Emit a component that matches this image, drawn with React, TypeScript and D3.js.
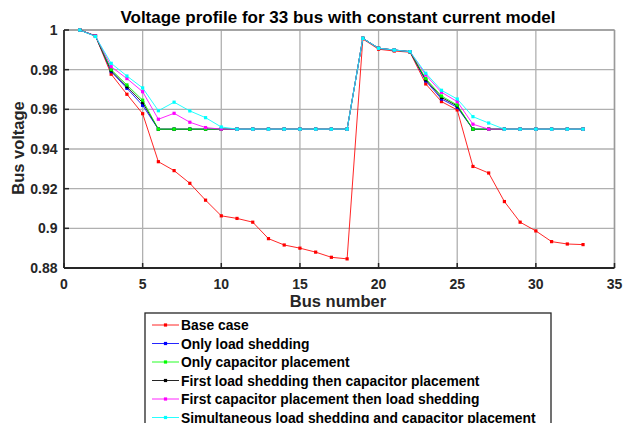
import React from "react";
import * as d3 from "d3";

const buses = [1,2,3,4,5,6,7,8,9,10,11,12,13,14,15,16,17,18,19,20,21,22,23,24,25,26,27,28,29,30,31,32,33];

const baseCase = [1.0,0.997,0.9777,0.9676,0.9578,0.9336,0.9291,0.9227,0.9142,0.9063,0.905,0.9031,0.8948,0.8916,0.89,0.888,0.8854,0.8846,0.9955,0.9903,0.9894,0.9888,0.9728,0.9639,0.9597,0.9312,0.9279,0.9135,0.9031,0.8987,0.8933,0.8921,0.8918];
const onlyLoadShedding = [1.0,0.997,0.979,0.9706,0.962,0.95,0.95,0.95,0.95,0.95,0.95,0.95,0.95,0.95,0.95,0.95,0.95,0.95,0.9958,0.9908,0.9899,0.9891,0.9743,0.9652,0.961,0.95,0.95,0.95,0.95,0.95,0.95,0.95,0.95];
const onlyCapacitor = [1.0,0.997,0.98,0.9723,0.9646,0.95,0.95,0.95,0.95,0.95,0.95,0.95,0.95,0.95,0.95,0.95,0.95,0.95,0.9958,0.9908,0.9899,0.9891,0.9755,0.9667,0.9622,0.95,0.95,0.95,0.95,0.95,0.95,0.95,0.95];
const loadThenCap = [1.0,0.997,0.9795,0.9714,0.9634,0.95,0.95,0.95,0.95,0.95,0.95,0.95,0.95,0.95,0.95,0.95,0.95,0.95,0.9958,0.9908,0.9899,0.9891,0.9749,0.966,0.9617,0.95,0.95,0.95,0.95,0.95,0.95,0.95,0.95];
const capThenLoad = [1.0,0.997,0.9815,0.9755,0.9689,0.955,0.958,0.9535,0.9508,0.95,0.95,0.95,0.95,0.95,0.95,0.95,0.95,0.95,0.9958,0.9908,0.9899,0.9891,0.9773,0.9686,0.9639,0.9525,0.95,0.95,0.95,0.95,0.95,0.95,0.95];
const simultaneous = [1.0,0.9967,0.9832,0.9768,0.9708,0.9593,0.9636,0.9592,0.9558,0.9511,0.95,0.95,0.95,0.95,0.95,0.95,0.95,0.95,0.9958,0.9908,0.9899,0.9891,0.9782,0.9696,0.9652,0.9563,0.9531,0.95,0.95,0.95,0.95,0.95,0.95];

const seriesNames = [
  "Base case",
  "Only load shedding",
  "Only capacitor placement",
  "First load shedding then capacitor placement",
  "First capacitor placement then load shedding",
  "Simultaneous load shedding and capacitor placement",
];
const seriesValues = [baseCase, onlyLoadShedding, onlyCapacitor, loadThenCap, capThenLoad, simultaneous];
const seriesColors = ["#ff0000", "#0000ff", "#00ff00", "#000000", "#ff00ff", "#00ffff"];
const drawOrder = [0, 1, 3, 2, 4, 5];

const xTicks = [0, 5, 10, 15, 20, 25, 30, 35];
const yTicks = [0.88, 0.9, 0.92, 0.94, 0.96, 0.98, 1];

const FONT = "'Liberation Sans', Arial, sans-serif";

export default function App() {
  const x = d3.scaleLinear().domain([0, 35]).range([64, 614.5]);
  const y = d3.scaleLinear().domain([0.88, 1]).range([268, 30]);
  const line = d3
    .line<number>()
    .x((_, i) => x(buses[i]))
    .y((d) => y(d));

  const [x0, x1] = x.range();
  const [y0, y1] = y.range();

  return (
    <svg
      width={629}
      height={423}
      style={{ position: "absolute", left: 0, top: 0, background: "#fff" }}
      fontFamily={FONT}
    >
      <rect x={0} y={0} width={629} height={423} fill="#fff" />
      {/* grid */}
      {xTicks.slice(1).map((t) => (
        <line key={"gx" + t} x1={x(t)} x2={x(t)} y1={y1} y2={y0} stroke="#b0b0b0" strokeWidth={1.3} />
      ))}
      {yTicks.slice(1).map((t) => (
        <line key={"gy" + t} x1={x0} x2={x1} y1={y(t)} y2={y(t)} stroke="#b0b0b0" strokeWidth={1.3} />
      ))}
      {/* box top/right */}
      <line x1={x0} x2={x1} y1={y1} y2={y1} stroke="#9a9a9a" strokeWidth={1.5} />
      <line x1={x1} x2={x1} y1={y1} y2={y0} stroke="#9a9a9a" strokeWidth={1.5} />
      {/* series */}
      {drawOrder.map((si) => (
        <g key={"s" + si}>
          <path d={line(seriesValues[si]) || ""} fill="none" stroke={seriesColors[si]} strokeWidth={1} strokeOpacity={0.85} />
          {seriesValues[si].map((v, i) => (
            <rect
              key={i}
              x={x(buses[i]) - 1.6}
              y={y(v) - 1.6}
              width={3.2}
              height={3.2}
              fill={seriesColors[si]}
            />
          ))}
        </g>
      ))}
      {/* axes */}
      <line x1={x0} x2={x1} y1={y0} y2={y0} stroke="#262626" strokeWidth={1.8} />
      <line x1={x0} x2={x0} y1={y1} y2={y0} stroke="#262626" strokeWidth={1.8} />
      {xTicks.map((t) => (
        <g key={"xt" + t}>
          <line x1={x(t)} x2={x(t)} y1={y0} y2={y0 - 5} stroke="#262626" strokeWidth={1.5} />
          <text x={x(t)} y={289} textAnchor="middle" fontSize={14} fontWeight="bold" fill="#262626">
            {t}
          </text>
        </g>
      ))}
      {yTicks.map((t) => (
        <g key={"yt" + t}>
          <line x1={x0} x2={x0 + 5} y1={y(t)} y2={y(t)} stroke="#262626" strokeWidth={1.5} />
          <text x={57.5} y={y(t) + 5} textAnchor="end" fontSize={14} fontWeight="bold" fill="#262626">
            {String(t)}
          </text>
        </g>
      ))}
      {/* title & labels */}
      <text x={338} y={23} textAnchor="middle" fontSize={17} fontWeight="bold" fill="#000">
        Voltage profile for 33 bus with constant current model
      </text>
      <text x={338} y={307} textAnchor="middle" fontSize={16.5} fontWeight="bold" fill="#262626">
        Bus number
      </text>
      <text
        transform={`translate(23.5,148) rotate(-90)`}
        textAnchor="middle"
        fontSize={16.5}
        fontWeight="bold"
        fill="#262626"
      >
        Bus voltage
      </text>
      {/* legend */}
      <rect x={145} y={313} width={406} height={120} fill="#fff" stroke="#262626" strokeWidth={1.3} />
      {seriesNames.map((name, i) => {
        const cy = 325 + i * 18.5;
        return (
          <g key={"lg" + i}>
            <line x1={152} x2={179} y1={cy} y2={cy} stroke={seriesColors[i]} strokeWidth={1} strokeOpacity={0.85} />
            <rect x={165.5 - 1.6} y={cy - 1.6} width={3.2} height={3.2} fill={seriesColors[i]} />
            <text x={181} y={cy + 5} fontSize={13.85} fontWeight="bold" fill="#000">
              {name}
            </text>
          </g>
        );
      })}
    </svg>
  );
}
